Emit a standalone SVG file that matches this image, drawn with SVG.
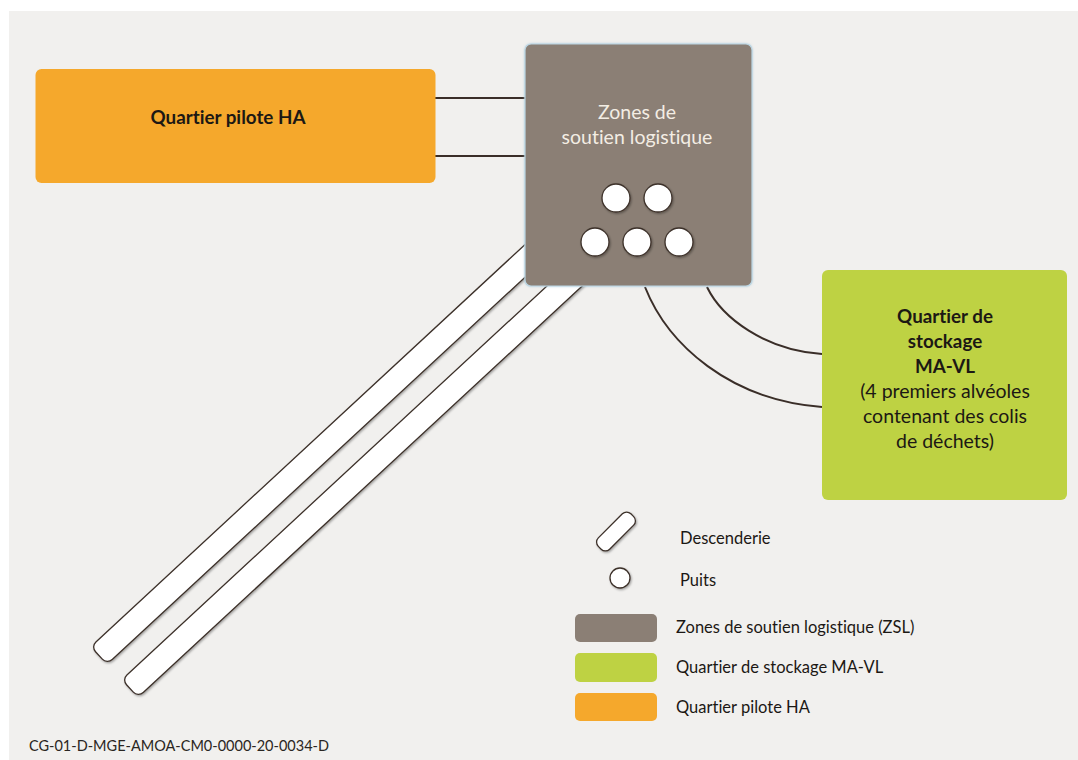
<svg xmlns="http://www.w3.org/2000/svg" width="1078" height="760" viewBox="0 0 1078 760">
  <defs>
    <style>
      .bg { fill: #f1f0ee; }
      .link { fill: none; stroke: #3a2e28; stroke-width: 2; }
      .white { fill: #ffffff; stroke: #3c3029; stroke-width: 1.3; }
      .zsl { fill: #8b7f75; }
      .mavl { fill: #bed243; }
      .ha { fill: #f5a82c; }
      .t { font-family: Lato, "Open Sans", "Liberation Sans", sans-serif; font-variant-ligatures: none; font-feature-settings: "liga" 0, "clig" 0, "dlig" 0; }
      .lbl { font-size: 19.5px; fill: #1c1814; text-anchor: middle; }
      .bold { font-weight: bold; font-size: 18.8px; }
      .zsl-t { font-size: 19.5px; fill: #f3ede4; text-anchor: middle; }
      .leg { font-size: 16.5px; fill: #1c1814; }
      .ref { font-size: 14.5px; fill: #2a2622; }
    </style>
    <filter id="shadow" x="-20%" y="-20%" width="140%" height="140%">
      <feDropShadow dx="1" dy="1.2" stdDeviation="1.2" flood-color="#000" flood-opacity="0.35"/>
    </filter>
    <filter id="glow" x="-5%" y="-5%" width="110%" height="110%">
      <feDropShadow dx="0" dy="0" stdDeviation="1" flood-color="#9cc3d8" flood-opacity="0.7"/>
    </filter>
  </defs>

  <!-- page -->
  <rect x="0" y="0" width="1078" height="760" fill="#ffffff"/>
  <rect class="bg" x="9" y="11" width="1069" height="749"/>

  <!-- access ramps (descenderies) -->
  <g id="descenderies" filter="url(#shadow)">
    <rect class="white" transform="translate(107,648) rotate(-42.8)" x="-11" y="-12" width="620" height="24" rx="7"/>
    <rect class="white" transform="translate(138,681) rotate(-42.8)" x="-11" y="-12" width="620" height="24" rx="7"/>
  </g>

  <!-- connectors -->
  <g id="connectors">
    <line class="link" x1="435" y1="98" x2="526" y2="98"/>
    <line class="link" x1="435" y1="156" x2="526" y2="156"/>
    <path class="link" d="M645,287 C668,345 730,400 822,407"/>
    <path class="link" d="M707,287 C722,318 765,350 822,354"/>
  </g>

  <!-- HA pilot quarter -->
  <g id="quartier-ha">
    <rect class="ha" x="35.5" y="69" width="400" height="114" rx="6"/>
    <text class="t lbl bold" x="228" y="124">Quartier pilote HA</text>
  </g>

  <!-- logistic support zones -->
  <g id="zsl">
    <rect class="zsl" x="525" y="44" width="227" height="242" rx="6" stroke="#bcd6e3" stroke-width="1.2" filter="url(#glow)"/>
    <text class="t zsl-t" x="637" y="119">Zones de</text>
    <text class="t zsl-t" x="637" y="144">soutien logistique</text>
    <g id="puits" filter="url(#shadow)">
      <circle class="white" cx="616" cy="198" r="14"/>
      <circle class="white" cx="658" cy="198" r="14"/>
      <circle class="white" cx="595" cy="242" r="14"/>
      <circle class="white" cx="637" cy="242" r="14"/>
      <circle class="white" cx="679" cy="242" r="14"/>
    </g>
  </g>

  <!-- MA-VL storage quarter -->
  <g id="quartier-mavl">
    <rect class="mavl" x="822" y="270" width="245" height="230" rx="6"/>
    <text class="t lbl bold" x="945" y="323">Quartier de</text>
    <text class="t lbl bold" x="945" y="348">stockage</text>
    <text class="t lbl bold" x="945" y="373">MA-VL</text>
    <text class="t lbl" x="945" y="398">(4 premiers alvéoles</text>
    <text class="t lbl" x="945" y="423">contenant des colis</text>
    <text class="t lbl" x="945" y="448">de déchets)</text>
  </g>

  <!-- legend -->
  <g id="legend">
    <g filter="url(#shadow)">
      <rect class="white" transform="translate(616,531.5) rotate(-45)" x="-23" y="-8" width="46" height="16" rx="6"/>
      <circle class="white" cx="620" cy="578" r="10"/>
    </g>
    <text class="t leg" x="680" y="544">Descenderie</text>
    <text class="t leg" x="680" y="586">Puits</text>
    <rect class="zsl" x="575" y="614" width="82" height="28" rx="5"/>
    <rect class="mavl" x="575" y="653" width="82" height="29" rx="5"/>
    <rect class="ha" x="575" y="693" width="82" height="28" rx="5"/>
    <text class="t leg" x="676" y="633">Zones de soutien logistique (ZSL)</text>
    <text class="t leg" x="676" y="673">Quartier de stockage MA-VL</text>
    <text class="t leg" x="676" y="713">Quartier pilote HA</text>
  </g>

  <text class="t ref" x="29" y="751">CG-01-D-MGE-AMOA-CM0-0000-20-0034-D</text>
</svg>
